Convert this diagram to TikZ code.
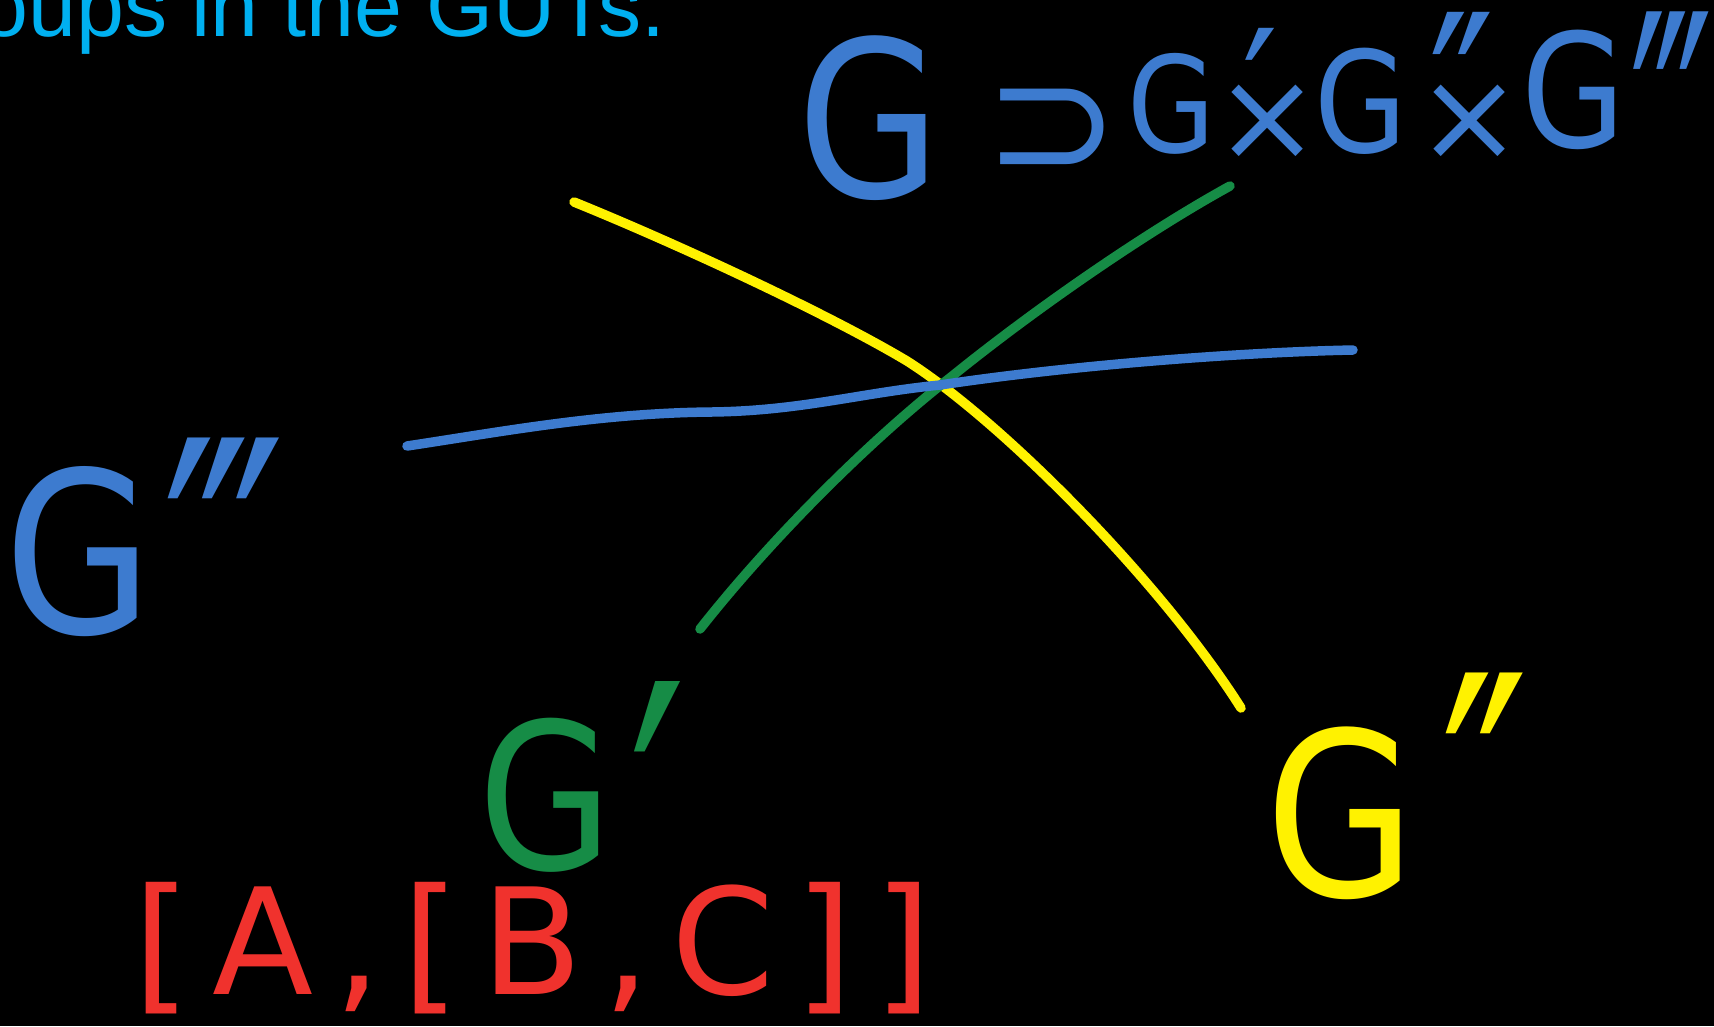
\documentclass[tikz,border=0pt]{standalone}
\usepackage{graphicx}
\usepackage{fontspec}
\setmainfont{Liberation Sans}
\newfontfamily\handfont{DejaVu Sans}
\definecolor{penblue}{RGB}{61,123,207}
\definecolor{pengreen}{RGB}{22,140,70}
\definecolor{penyellow}{RGB}{255,242,0}
\definecolor{penred}{RGB}{240,50,45}
\definecolor{titlecyan}{RGB}{0,176,240}
\newcommand{\squeeze}[2]{\scalebox{#1}[1]{#2}}
% primes, stretched, in a box as tight as their ink
\newcommand{\hiprime}[3]{\scalebox{#1}[#2]{\raisebox{-0.52em}[0.21em][0pt]{#3}}}
\tikzset{
  hand/.style={font={\handfont\fontsize{#1}{#1}\selectfont}, inner sep=0pt},
  primes/.style={hand=50, anchor=north},
  pen/.style={line width=2.7pt, line cap=round, line join=round},
}
\begin{document}
\begin{tikzpicture}[x=0.01cm, y=-0.01cm]
    \fill[black] (0,0) rectangle (1714,1026);
    \useasboundingbox (0,0) rectangle (1714,1026);
    \node[anchor=base west, text=titlecyan, inner sep=0pt,
          font=\fontsize{24.5}{26}\selectfont] (title) at (-20,36) {oups in the GUTs.};
    % the chain of subgroups
    \begin{scope}[text=penblue]
        \node[hand=62] (gbig) at (869,118) {\squeeze{.85}{G}};
        \node[hand=46] (supset) at (1052,133) {⊃};
        \node[hand=38] (ga) at (1172,104) {\squeeze{.85}{G}};
        \node[primes] (pa) at (1260,27) {\hiprime{.9}{1}{′}};
        \node[hand=36] (xa) at (1268,123) {×};
        \node[hand=40] (gb) at (1361,101) {\squeeze{.85}{G}};
        \node[primes] (pb) at (1462,11) {\hiprime{.99}{1.32}{″}};
        \node[hand=36] (xb) at (1470,123) {×};
        \node[hand=45] (gc) at (1574,90) {\squeeze{.85}{G}};
        \node[primes] (pc) at (1672,11) {\hiprime{.9}{1.8}{‴}};
    \end{scope}
    % labels of the three lines
    \node[hand=64, text=penblue] (gthree) at (79,552) {\squeeze{.85}{G}};
    \node[primes, text=penblue] (pthree) at (224,437) {\hiprime{1.33}{1.9}{‴}};
    \node[hand=58, text=pengreen] (gone) at (546,795) {\squeeze{.85}{G}};
    \node[primes, text=pengreen] (pone) at (658,680) {\hiprime{1.43}{2.2}{′}};
    \node[hand=65, text=penyellow] (gtwo) at (1341,813) {\squeeze{.85}{G}};
    \node[primes, text=penyellow] (ptwo) at (1485,672) {\hiprime{1.33}{1.9}{″}};
    \node[hand=42, text=penred, anchor=base] (bracket) at (533,994)
        {[\kern6pt A\kern6pt,\kern6pt[\kern6pt B\kern6pt,\kern6pt C\kern6pt]\kern6pt]};
    % the three lines
    \coordinate (ys) at (574,202);
    \coordinate (ye) at (1241,708);
    \coordinate (gs) at (700,629);
    \coordinate (ge) at (1230,186);
    \coordinate (bs) at (407,446);
    \coordinate (be) at (1353,350);
    \draw[pen, penyellow] (ys) .. controls (680,245) and (830,315) .. (907,361)
        .. controls (1000,420) and (1160,580) .. (ye);
    \draw[pen, pengreen] (gs) .. controls (770,540) and (870,440) .. (951,377)
        .. controls (1040,305) and (1150,230) .. (ge);
    \draw[pen, penblue] (bs) .. controls (500,432) and (600,413) .. (711,412)
        .. controls (800,411) and (860,393) .. (940,385)
        .. controls (1080,364) and (1250,352) .. (be);
\end{tikzpicture}
\end{document}
